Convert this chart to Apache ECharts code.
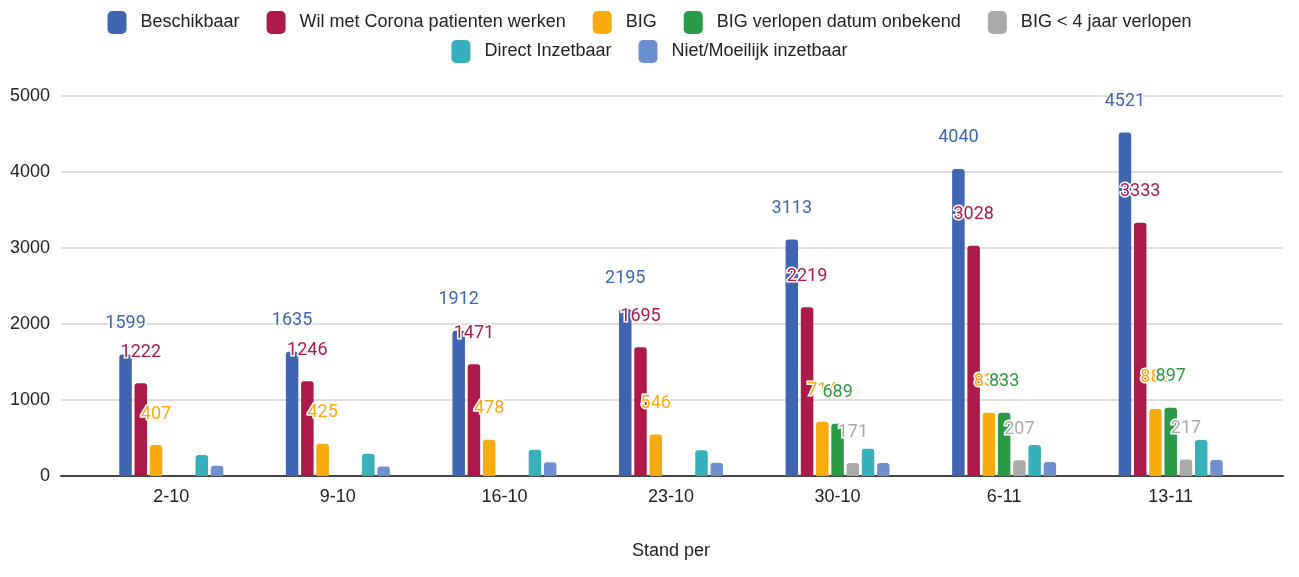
<!DOCTYPE html>
<html>
<head>
<meta charset="utf-8">
<script src="https://cdn.jsdelivr.net/npm/echarts@6/dist/echarts.min.js"></script>
<style>html,body{margin:0;padding:0;background:#fff}#c{width:1299px;height:577px}</style>
</head>
<body>
<div id="c"></div>
<script>
var categories = ['2-10','9-10','16-10','23-10','30-10','6-11','13-11'];
var seriesNames = ['Beschikbaar','Wil met Corona patienten werken','BIG','BIG verlopen datum onbekend','BIG < 4 jaar verlopen','Direct Inzetbaar','Niet/Moeilijk inzetbaar'];
var beschikbaar = [1599,1635,1912,2195,3113,4040,4521];
var wilCorona = [1222,1246,1471,1695,2219,3028,3333];
var big = [407,425,478,546,714,831,882];
var bigOnbekend = [null,null,null,null,689,833,897];
var bigKort = [null,null,null,null,171,207,217];
var directInzetbaar = [276,293,345,338,359,408,474];
var nietInzetbaar = [135,125,180,175,170,184,210];
var yTicks = [0,1000,2000,3000,4000,5000];

var colors = ['#3e66b0','#ad1a4a','#f8ab0d','#2b9a44','#aaaaaa','#36b1bb','#6d91cf'];
var allData = [beschikbaar, wilCorona, big, bigOnbekend, bigKort, directInzetbaar, nietInzetbaar];
var showLabel = [true,true,true,true,true,false,false];

var series = allData.map(function(d, i){
  return {
    name: seriesNames[i], type: 'bar', xAxisIndex: 1, yAxisIndex: 1,
    data: d, barWidth: 12.5, barGap: '22%',
    itemStyle: {color: colors[i], borderRadius: [3,3,1,1]},
    label: {
      show: showLabel[i], position: 'top', distance: 22,
      fontFamily: 'Roboto', fontSize: 18, color: colors[i],
      textBorderColor: '#fff', textBorderWidth: 3
    }
  };
});

var legendCommon = {
  icon: 'roundRect', itemWidth: 19, itemHeight: 23, itemGap: 27, left: 'center',
  textStyle: {fontFamily: 'Liberation Sans', fontSize: 18, color: '#222', padding: [0,0,0,9]}
};

var chart = echarts.init(document.getElementById('c'));
chart.setOption({
  animation: false,
  color: colors,
  legend: [
    Object.assign({top: 6, data: seriesNames.slice(0,5)}, legendCommon),
    Object.assign({top: 35, data: seriesNames.slice(5)}, legendCommon)
  ],
  grid: [
    {left: 61, right: 16, top: 96, bottom: 101},
    {left: 88, right: 45, top: 96, bottom: 101}
  ],
  xAxis: [
    {gridIndex: 0, type: 'category', data: [''], axisTick: {show: false}, axisLabel: {show: false},
     axisLine: {show: true, lineStyle: {color: '#444', width: 2}}},
    {gridIndex: 1, type: 'category', data: categories, axisTick: {show: false},
     axisLine: {show: false},
     axisLabel: {fontFamily: 'Liberation Sans', fontSize: 18, color: '#222', margin: 12},
     name: 'Stand per', nameLocation: 'middle', nameGap: 66,
     nameTextStyle: {fontFamily: 'Liberation Sans', fontSize: 18, color: '#222'}}
  ],
  yAxis: [
    {gridIndex: 0, type: 'value', min: yTicks[0], max: yTicks[yTicks.length-1], interval: 1000,
     axisLine: {show: false}, axisTick: {show: false},
     axisLabel: {fontFamily: 'Liberation Sans', fontSize: 18, color: '#222', margin: 11,
                 formatter: function(v){ return String(v); }},
     splitLine: {lineStyle: {color: '#d2d2d2', width: 1.5}}},
    {gridIndex: 1, type: 'value', min: yTicks[0], max: yTicks[yTicks.length-1], interval: 1000, show: false,
     splitLine: {show: false}}
  ],
  series: series
});
</script>
</body>
</html>
